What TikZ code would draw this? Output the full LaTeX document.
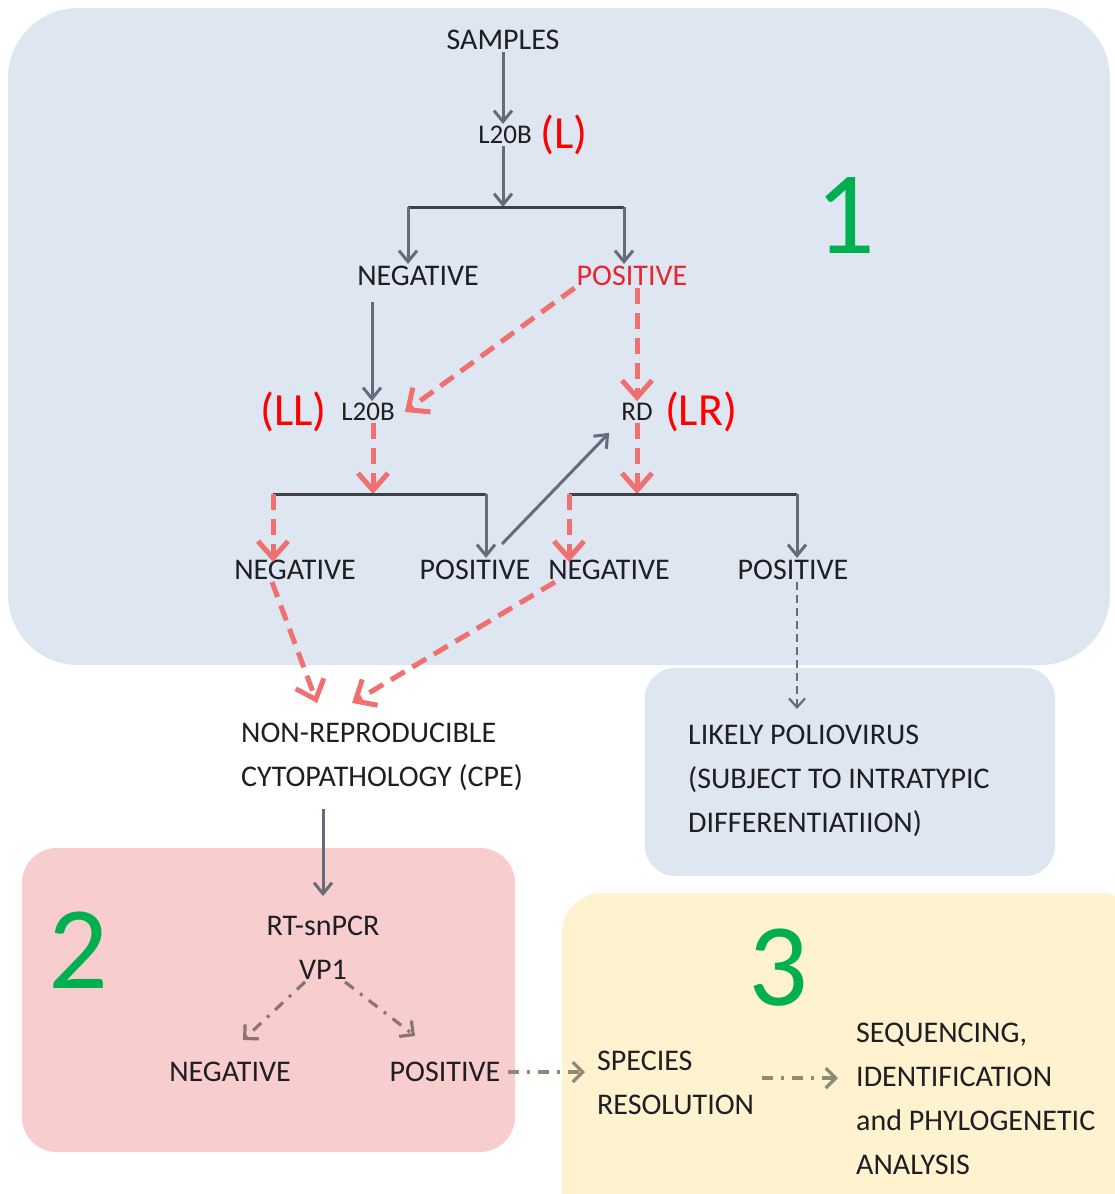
\documentclass[tikz,border=0pt]{standalone}
\usepackage{fontspec}
\setmainfont{Carlito}
\usetikzlibrary{positioning,arrows.meta}

\definecolor{boxblue}{RGB}{221,230,241}
\definecolor{boxpink}{RGB}{248,205,205}
\definecolor{boxyellow}{RGB}{255,242,206}
\definecolor{arrowgray}{RGB}{100,108,122}
\definecolor{arrowred}{RGB}{240,112,112}
\definecolor{textred}{RGB}{232,36,46}
\definecolor{numgreen}{RGB}{0,176,80}
\definecolor{dashbrown}{RGB}{140,116,116}
\definecolor{dasholive}{RGB}{140,140,118}

\begin{document}
\begin{tikzpicture}[
            x=1pt, y=-1pt,
            font=\fontsize{30}{44}\selectfont,
            every node/.style={inner sep=2pt, text={rgb,255:red,30;green,30;blue,36}},
            tag/.style={text=red, font=\fontsize{46}{46}\selectfont},
            stage/.style={text=numgreen, font=\fontsize{118}{118}\selectfont},
            small/.style={font=\fontsize{27}{40}\selectfont},
            block/.style={align=left, anchor=west, inner sep=0pt},
            grayarrow/.style={draw=arrowgray, line width=3pt, -{Straight Barb[length=11pt, width=18pt]}},
            redarrow/.style={draw=arrowred, line width=5pt, dash pattern=on 16pt off 9pt, -{Straight Barb[length=17pt, width=30pt]}},
            fork/.style={draw={rgb,255:red,60;green,64;blue,72}, line width=3pt},
            dotarrow/.style={draw=arrowgray, line width=2.2pt, dash pattern=on 8pt off 5pt, -{Straight Barb[length=9pt, width=16pt]}},
            dasharrow/.style={line width=3.2pt, dash pattern=on 11pt off 8pt on 3pt off 8pt, -{Straight Barb[length=10pt, width=20pt]}}
        ]

            \useasboundingbox (0,0) rectangle (1115,1194);

            % regions
            \fill[boxblue, rounded corners=70pt] (8,8) rectangle (1110,665);
            \fill[boxblue, rounded corners=30pt] (645,668) rectangle (1055,876);
            \fill[boxpink, rounded corners=35pt] (22,848) rectangle (515,1152);
            \fill[boxyellow, rounded corners=40pt] (562,893) rectangle (1140,1230);

            % stage 1
            \node (samples) at (503,40) {SAMPLES};
            \node[small] (ltb) at (505,135) {L20B};
            \node[tag, right=4pt of ltb] (tagl) {(L)};
            \node[stage] (num1) at (845,216) {1};

            \node (neg1) at (418,276) {NEGATIVE};
            \node[text=textred] (pos1) at (632,276) {POSITIVE};

            \node[small] (ltbb) at (368,412) {L20B};
            \node[tag, left=10pt of ltbb] (tagll) {(LL)};
            \node[small] (rd) at (637,412) {RD};
            \node[tag, right=8pt of rd] (taglr) {(LR)};

            \node (neg2) at (295,570) {NEGATIVE};
            \node (pos2) at (475,570) {POSITIVE};
            \node (neg3) at (609,570) {NEGATIVE};
            \node (pos3) at (793,570) {POSITIVE};

            \node[block] (cpe) at (241,757) {NON-REPRODUCIBLE\\CYTOPATHOLOGY (CPE)};
            \node[block] (polio) at (688,781) {LIKELY POLIOVIRUS\\(SUBJECT TO INTRATYPIC\\DIFFERENTIATIION)};

            % stage 2
            \node[stage] (num2) at (78,950) {2};
            \node[align=center] (rtpcr) at (323,948) {RT-snPCR\\VP1};
            \node (neg4) at (230,1072) {NEGATIVE};
            \node (pos4) at (445,1072) {POSITIVE};

            % stage 3
            \node[stage] (num3) at (778,968) {3};
            \node[block] (species) at (597,1083) {SPECIES\\RESOLUTION};
            \node[block] (seq) at (856,1099) {SEQUENCING,\\IDENTIFICATION\\and PHYLOGENETIC\\ANALYSIS};

            \coordinate (fork1) at (503,207);
            \coordinate (fork1l) at (408,207);
            \coordinate (fork1r) at (624,207);
            \coordinate (fork2) at (373,494);
            \coordinate (fork2l) at (273,494);
            \coordinate (fork2r) at (486,494);
            \coordinate (fork3) at (637,494);
            \coordinate (fork3l) at (569,494);
            \coordinate (fork3r) at (797,494);

            \draw[grayarrow] (samples) -- (samples |- ltb.north);
            \draw[grayarrow] (ltb.south -| fork1) -- (fork1);
            \draw[fork] (fork1l) -- (fork1r);
            \draw[grayarrow] (fork1l) -- (fork1l |- neg1.north);
            \draw[grayarrow] (fork1r) -- (fork1r |- pos1.north);

            \draw[grayarrow] (372,302) -- (ltbb.north -| 372,0);
            \draw[redarrow] (pos1.south west) -- ([xshift=8pt]ltbb.east);
            \draw[redarrow] (pos1.south -| rd) -- (rd.north);

            \draw[redarrow] (ltbb.south -| fork2) -- (fork2);
            \draw[fork] (fork2l) -- (fork2r);
            \draw[redarrow] (fork2l) -- ([yshift=-4pt]fork2l |- neg2.north);
            \draw[grayarrow] (fork2r) -- (fork2r |- pos2.north);

            \draw[redarrow] (rd.south) -- (fork3);
            \draw[fork] (fork3l) -- (fork3r);
            \draw[redarrow] (fork3l) -- ([yshift=-4pt]fork3l |- neg3.north);
            \draw[grayarrow] (fork3r) -- (fork3r |- pos3.north);

            \draw[grayarrow] ([xshift=27pt,yshift=14pt]pos2.north) -- ([xshift=-10pt,yshift=-10pt]rd.south west);

            \draw[redarrow] ([xshift=-23pt]neg2.south) -- ([xshift=-65pt,yshift=20pt]cpe.north);
            \draw[redarrow] ([xshift=-54pt]neg3.south) -- ([xshift=-30pt,yshift=20pt]cpe.north);
            \draw[dotarrow] (pos3.south -| fork3r) -- ([yshift=16pt]fork3r |- polio.north);

            \draw[grayarrow] ([yshift=-18pt]cpe.south -| rtpcr) -- ([yshift=18pt]rtpcr.north);
            \draw[dasharrow, draw=dashbrown] ([xshift=-18pt]rtpcr.south) -- ([xshift=13pt,yshift=20pt]neg4.north);
            \draw[dasharrow, draw=dashbrown] ([xshift=22pt]rtpcr.south) -- ([xshift=-30pt,yshift=24pt]pos4.north);

            \draw[dasharrow, draw=dasholive] ([xshift=6pt]pos4.east) -- ([xshift=-12pt]species.west |- pos4);
            \draw[dasharrow, draw=dasholive] ([xshift=8pt]species.east |- 0,1078) -- ([xshift=-18pt]seq.west |- 0,1078);

        \end{tikzpicture}
\end{document}
